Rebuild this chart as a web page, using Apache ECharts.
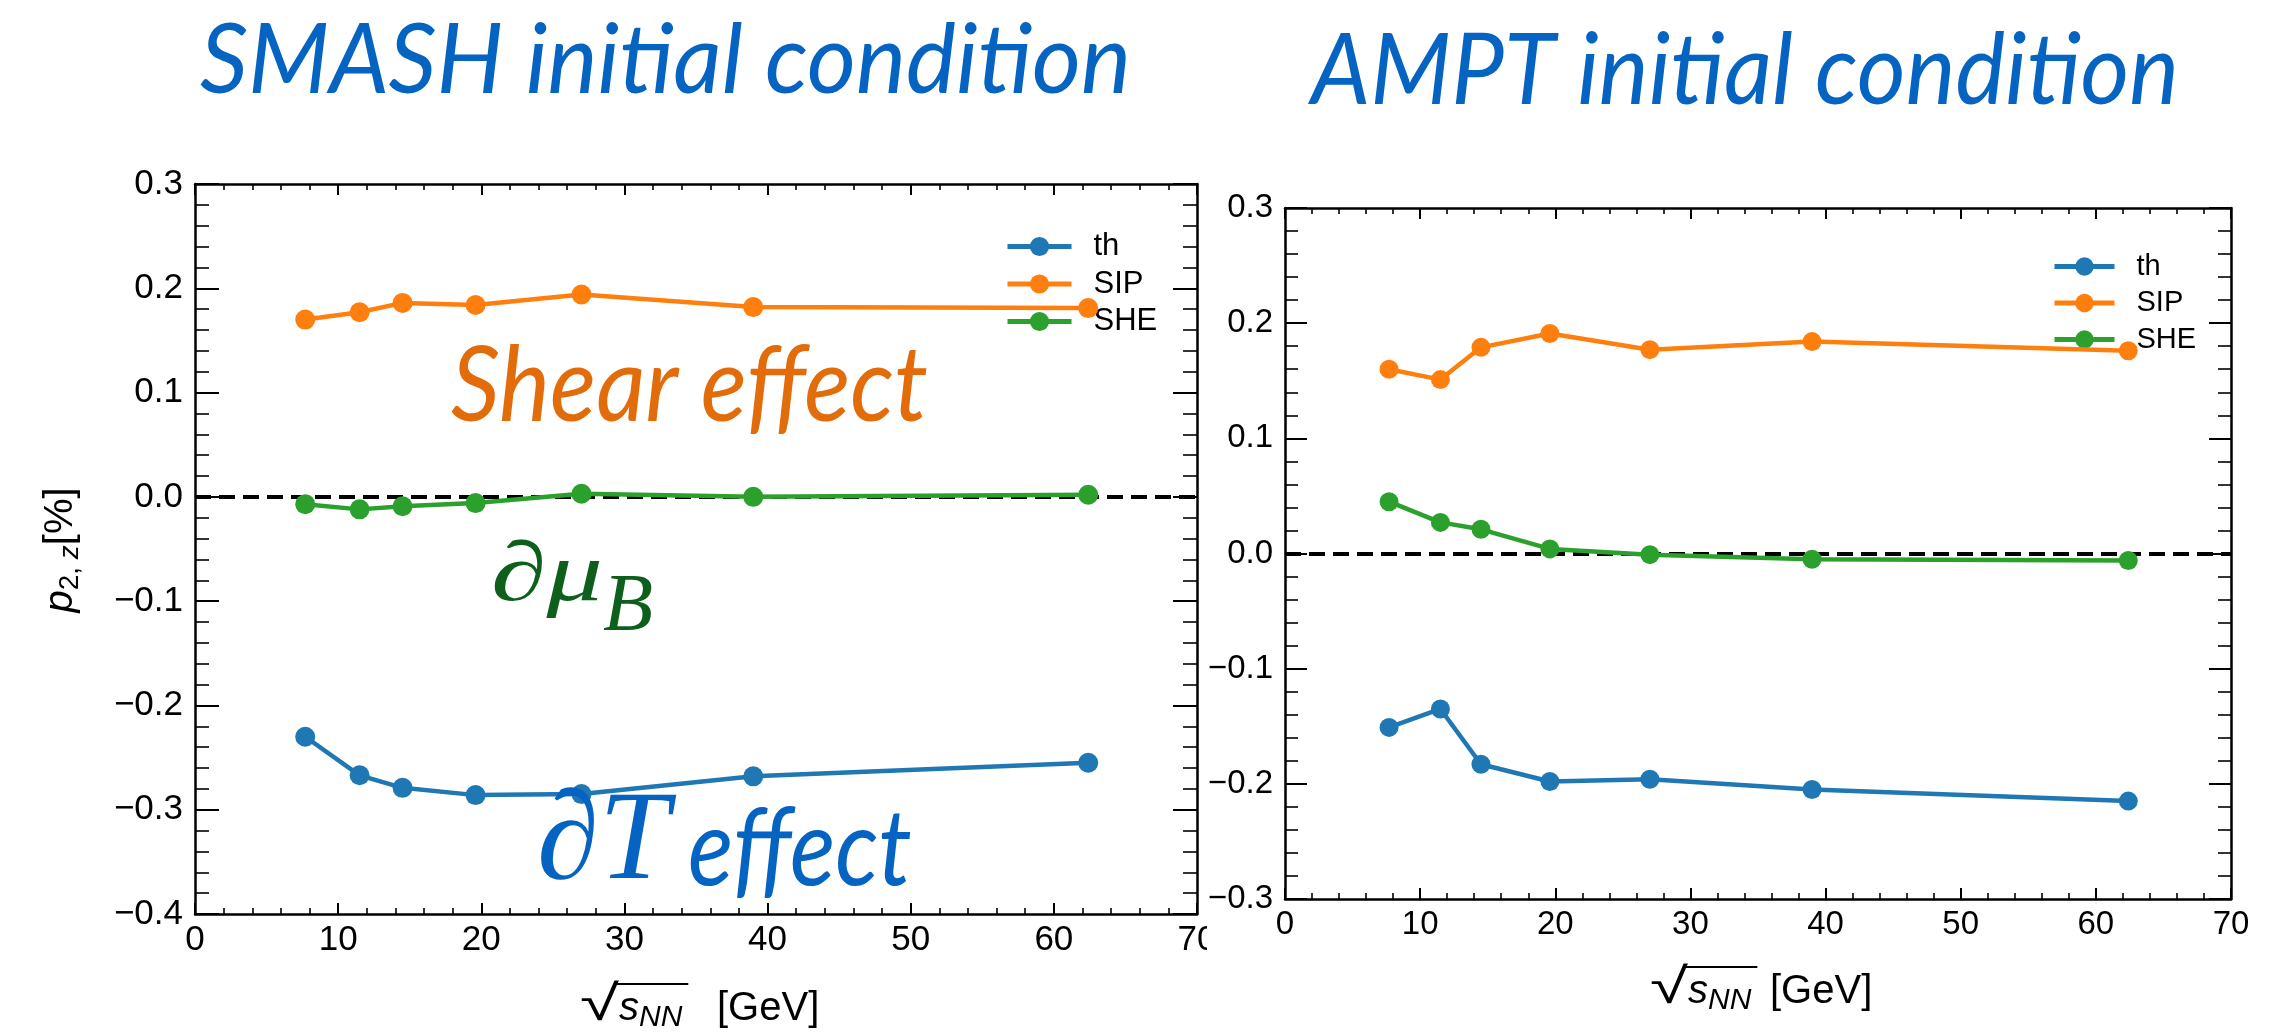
<!DOCTYPE html>
<html>
<head>
<meta charset="utf-8">
<script src="https://cdn.jsdelivr.net/npm/echarts@6/dist/echarts.min.js"></script>
<style>
  html, body { margin: 0; padding: 0; background: #fff; }
  #chart { width: 2289px; height: 1036px; }
</style>
</head>
<body>
<div id="chart"></div>
<script>
// collision energies (sqrt(s_NN), GeV)
const energies = [7.7, 11.5, 14.5, 19.6, 27, 39, 62.4];

// SMASH initial condition, p_{2,z} [%]
const smashTh  = [-0.230, -0.267, -0.279, -0.286, -0.285, -0.268, -0.255];
const smashSIP = [0.170, 0.177, 0.186, 0.184, 0.194, 0.182, 0.181];
const smashSHE = [-0.007, -0.012, -0.009, -0.006, 0.003, 0.000, 0.002];

// AMPT initial condition, p_{2,z} [%]
const amptTh  = [-0.151, -0.135, -0.183, -0.198, -0.196, -0.205, -0.215];
const amptSIP = [0.160, 0.151, 0.179, 0.191, 0.177, 0.184, 0.176];
const amptSHE = [0.045, 0.027, 0.021, 0.004, -0.001, -0.005, -0.006];

const seriesNames = ['th', 'SIP', 'SHE'];
const seriesColors = ['#1f77b4', '#ff7f0e', '#2ca02c'];
const xTicks = [0, 70, 10];          // min, max, interval
const yTicksSmash = [-0.4, 0.3, 0.1];
const yTicksAmpt = [-0.3, 0.3, 0.1];

const FONT = "'Liberation Sans', Arial, Helvetica, sans-serif";
const TITLE_FONT = "Lato, 'Open Sans', sans-serif";
const SERIF = "'Liberation Serif', 'DejaVu Serif', serif";

const chart = echarts.init(document.getElementById('chart'));

// helper to squeeze a text to a given width (the slide font is condensed)
const measureCtx = document.createElement('canvas').getContext('2d');
function textWidth(text, font) {
    measureCtx.font = font;
    return measureCtx.measureText(text).width;
}
function fitScale(text, font, target) {
    return target / textWidth(text, font);
}

const zip = (xs, ys) => xs.map((x, i) => [x, ys[i]]);

const yFmt = v => {
    const r = Math.round(v * 10) / 10;
    return (r < 0 ? '\u2212' : '') + Math.abs(r).toFixed(1);
};

function makeAxes(gridIndex, ticks, yt, fontSize, majorY, minorY) {
    const line = { show: true, onZero: false, lineStyle: { color: '#000', width: 2.5 } };
    const xBase = {
        type: 'value', gridIndex: gridIndex, min: ticks[0], max: ticks[1], interval: ticks[2],
        axisLine: line, splitLine: { show: false },
        axisTick: { show: true, inside: true, length: 11, lineStyle: { color: '#000', width: 2 } },
        minorTick: { show: true, splitNumber: 5, length: 6, lineStyle: { color: '#000', width: 1.6 } }
    };
    const yBase = {
        type: 'value', gridIndex: gridIndex, min: yt[0], max: yt[1], interval: yt[2],
        axisLine: line, splitLine: { show: false },
        axisTick: { show: true, inside: true, length: majorY, lineStyle: { color: '#000', width: 2 } },
        minorTick: { show: true, splitNumber: 5, length: minorY, lineStyle: { color: '#000', width: 1.6 } }
    };
    const xAxes = [
        Object.assign({}, xBase, {
            position: 'bottom',
            axisLabel: { show: true, color: '#000', fontSize: fontSize, fontFamily: FONT, margin: 9 }
        }),
        Object.assign({}, xBase, { position: 'top', axisLabel: { show: false } })
    ];
    const yAxes = [
        Object.assign({}, yBase, {
            position: 'left', z: 10,
            axisLabel: { show: true, color: '#000', fontSize: fontSize, fontFamily: FONT, margin: 12, formatter: yFmt }
        }),
        Object.assign({}, yBase, { position: 'right', axisLabel: { show: false } })
    ];
    return { xAxes, yAxes };
}

const axSmash = makeAxes(0, xTicks, yTicksSmash, 35, 24, 14);
const axAmpt = makeAxes(1, xTicks, yTicksAmpt, 33, 22, 13);

function makeSeries(dataSets, axisIdx, symbolSize, lw) {
    return dataSets.map((ys, i) => {
        const s = {
            name: seriesNames[i],
            type: 'line',
            xAxisIndex: axisIdx,
            yAxisIndex: axisIdx,
            data: zip(energies, ys),
            symbol: 'circle',
            symbolSize: symbolSize,
            itemStyle: { color: seriesColors[i] },
            lineStyle: { color: seriesColors[i], width: lw },
            emphasis: { disabled: true },
            z: 3
        };
        if (i === 0) {
            s.markLine = {
                silent: true,
                symbol: ['none', 'none'],
                label: { show: false },
                lineStyle: { color: '#000', width: 4, type: [16, 8] },
                data: [{ yAxis: 0 }],
                z: 1
            };
        }
        return s;
    });
}

function legend(left, top, w, h, gap, fs) {
    return {
        orient: 'vertical', left: left, top: top, z: 1,
        itemWidth: w, itemHeight: h, itemGap: gap,
        data: seriesNames,
        lineStyle: { width: 5 },
        textStyle: { color: '#000', fontSize: fs, fontFamily: FONT, padding: [0, 0, 0, 17] }
    };
}

// annotation texts on the slide
const t1Font = 'italic 98px ' + TITLE_FONT;
const t2Font = 'italic 99px ' + TITLE_FONT;
const shearFont = 'italic 104px ' + TITLE_FONT;
const effFont = 'italic 106px ' + TITLE_FONT;
const muFont = 'italic 84px ' + SERIF;
const dtFont = 'italic 126px ' + SERIF;

// sqrt(s_NN) [GeV] axis title: radical, overline and unit
function sqrtLabel(x0, xs, xUnit, cy, fs, overY) {
    const rFont = Math.round(fs * 1.25) + 'px ' + FONT;
    const sFont = 'italic ' + fs + 'px ' + FONT;
    const subFont = 'italic ' + Math.round(fs * 0.75) + 'px ' + FONT;
    const wS = textWidth('s', sFont) + textWidth('NN', subFont);
    return [
        {
            type: 'text', x: x0, y: cy - 3, z: 20, scaleX: fitScale('\u221A', rFont, xs - x0),
            style: { text: '\u221A', font: rFont, fill: '#000', verticalAlign: 'middle' }
        },
        {
            type: 'text', x: xs, y: cy, z: 20,
            style: {
                text: '{s|s}{sub|NN}',
                verticalAlign: 'middle', fill: '#000',
                rich: {
                    s: { font: sFont, lineHeight: fs * 1.2 },
                    sub: { font: subFont, lineHeight: fs * 0.75, verticalAlign: 'bottom' }
                }
            }
        },
        {
            type: 'text', x: xUnit, y: cy, z: 20,
            style: { text: '[GeV]', font: fs + 'px ' + FONT, fill: '#000', verticalAlign: 'middle' }
        },
        {
            type: 'line', z: 20,
            shape: { x1: xs - 3, y1: overY, x2: xs + wS + 6, y2: overY },
            style: { stroke: '#000', lineWidth: 2 }
        }
    ];
}

const option = {
    animation: false,
    backgroundColor: '#fff',
    grid: [
        { left: 195, top: 184, width: 1002, height: 730 },
        { left: 1285, top: 208, width: 946, height: 691 }
    ],
    xAxis: axSmash.xAxes.concat(axAmpt.xAxes),
    yAxis: axSmash.yAxes.concat(axAmpt.yAxes),
    legend: [
        legend(1000, 226, 64, 24, 6.5, 31),
        legend(2047, 247, 60, 23, 7.5, 29)
    ],
    series: makeSeries([smashTh, smashSIP, smashSHE], 0, 20, 4.5)
        .concat(makeSeries([amptTh, amptSIP, amptSHE], 2, 19, 4.5)),
    graphic: [
        {
            type: 'text', x: 200, y: 61, scaleX: fitScale('SMASH initial condition', t1Font, 931),
            style: { text: 'SMASH initial condition', font: t1Font, fill: '#0563c1', verticalAlign: 'middle' }
        },
        {
            type: 'text', x: 1311, y: 72, scaleX: fitScale('AMPT initial condition', t2Font, 868),
            style: { text: 'AMPT initial condition', font: t2Font, fill: '#0563c1', verticalAlign: 'middle' }
        },
        {
            type: 'text', x: 451, y: 387, z: 5, scaleX: fitScale('Shear effect', shearFont, 477),
            style: { text: 'Shear effect', font: shearFont, fill: '#e36c0a', verticalAlign: 'middle' }
        },
        {
            type: 'text', x: 491, y: 578, z: 5, scaleX: fitScale('\u2202\u03BC', muFont, 112),
            style: { text: '\u2202\u03BC', font: muFont, fill: '#0d5f1b', verticalAlign: 'middle' }
        },
        {
            type: 'text', x: 603, y: 608, z: 5,
            style: { text: 'B', font: 'italic 82px ' + SERIF, fill: '#0d5f1b', verticalAlign: 'middle' }
        },
        {
            type: 'text', x: 537, y: 845, z: 5, scaleX: fitScale('\u2202T', dtFont, 132),
            style: { text: '\u2202T', font: dtFont, fill: '#0563c1', verticalAlign: 'middle' }
        },
        {
            type: 'text', x: 688, y: 851, z: 5, scaleX: fitScale('effect', effFont, 224),
            style: { text: 'effect', font: effFont, fill: '#0563c1', verticalAlign: 'middle' }
        },
        {
            // y axis title of the left panel
            type: 'text', x: 61, y: 550, rotation: Math.PI / 2, z: 20,
            style: {
                text: '{p|p}{sub|2, }{subi|z}{n|[%]}',
                align: 'center', verticalAlign: 'middle', fill: '#000',
                rich: {
                    p: { fontSize: 40, fontFamily: FONT, fontStyle: 'italic', lineHeight: 46 },
                    sub: { fontSize: 28, fontFamily: FONT, lineHeight: 26, verticalAlign: 'bottom' },
                    subi: { fontSize: 28, fontFamily: FONT, fontStyle: 'italic', lineHeight: 26, verticalAlign: 'bottom' },
                    n: { fontSize: 40, fontFamily: FONT, lineHeight: 46 }
                }
            }
        },
        // the right panel covers the end of the left "70" label
        {
            type: 'rect', z: 5,
            shape: { x: 1207, y: 918, width: 30, height: 45 },
            style: { fill: '#fff' }
        }
    ]
        .concat(sqrtLabel(580, 619, 717, 1009, 40, 984))
        .concat(sqrtLabel(1650, 1688, 1770, 992, 40, 967))
};

chart.setOption(option);
</script>
</body>
</html>
